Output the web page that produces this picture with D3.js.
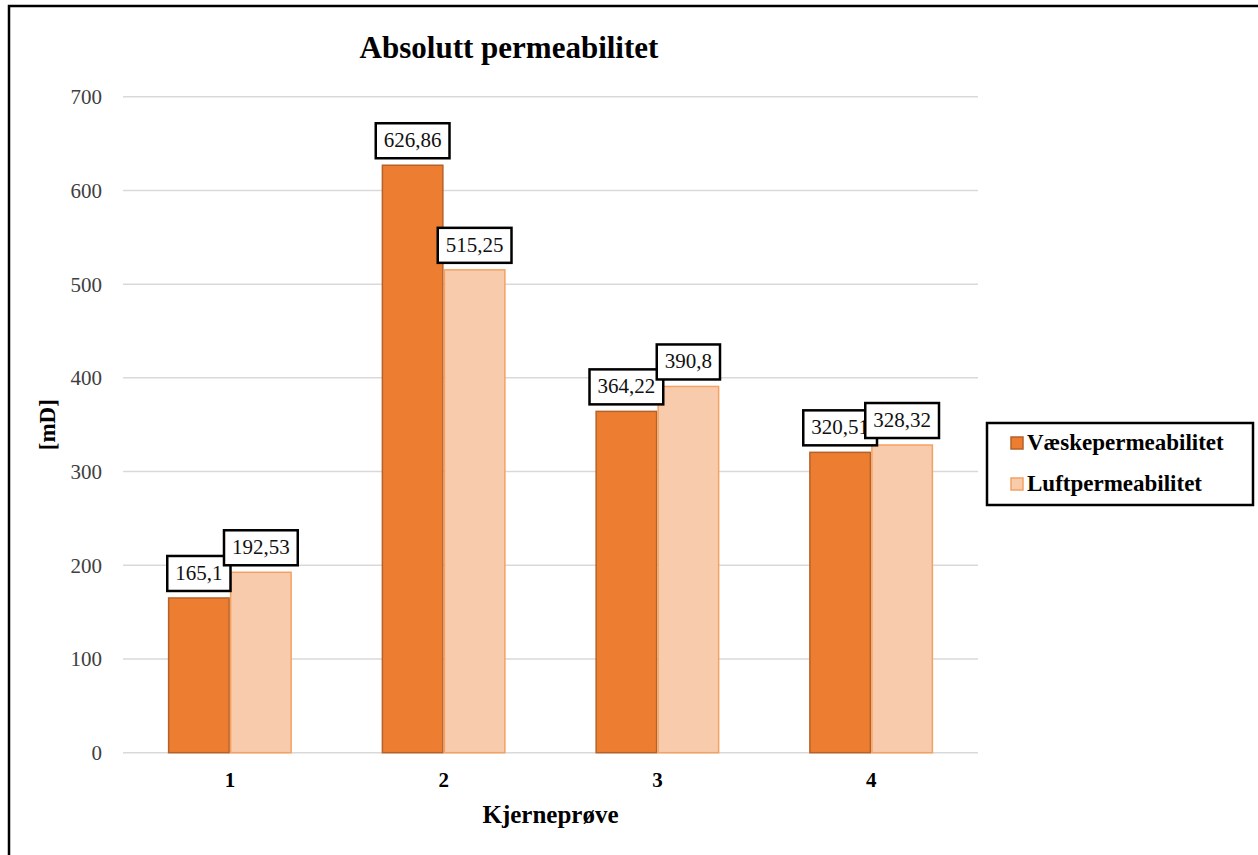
<!DOCTYPE html>
<html>
<head>
<meta charset="utf-8">
<script src="https://cdn.jsdelivr.net/npm/d3@7"></script>
<style>
  html, body { margin: 0; padding: 0; background: #fff; }
  svg { display: block; }
  text { font-family: "Liberation Serif", "DejaVu Serif", serif; }
</style>
</head>
<body>
<svg id="chart" width="1258" height="855"></svg>
<script>
// Core samples and measured permeabilities [mD]
const categories = ["1", "2", "3", "4"];
const seriesNames = ["Væskepermeabilitet", "Luftpermeabilitet"];
const liquidPerm = [165.1, 626.86, 364.22, 320.51];
const airPerm = [192.53, 515.25, 390.8, 328.32];
const yTicks = [0, 100, 200, 300, 400, 500, 600, 700];

const seriesValues = [liquidPerm, airPerm];
const fills = ["#ED7D31", "#F8CBAD"];
const strokes = ["#B5622A", "#F4A261"];

const svg = d3.select("#chart");
const plot = { left: 123, right: 978, top: 96.7, bottom: 752.7 };

// outer frame
svg.append("rect")
  .attr("x", 9).attr("y", 6).attr("width", 1300).attr("height", 900)
  .attr("fill", "none").attr("stroke", "#000").attr("stroke-width", 2.5);

const x = d3.scaleBand().domain(categories).range([plot.left, plot.right]).paddingInner(0).paddingOuter(0);
const barW = 62;
const groupW = barW * 2;
const y = d3.scaleLinear().domain([0, 700]).range([plot.bottom, plot.top]);

// gridlines
svg.append("g").selectAll("line").data(yTicks).join("line")
  .attr("x1", plot.left).attr("x2", plot.right)
  .attr("y1", d => y(d)).attr("y2", d => y(d))
  .attr("stroke", "#D9D9D9").attr("stroke-width", 1.5);

// y axis tick labels
const yAxis = d3.axisLeft(y).tickValues(yTicks).tickSize(0).tickPadding(0).tickFormat(d3.format("d"));
const yg = svg.append("g").attr("transform", `translate(102,0)`).call(yAxis);
yg.select(".domain").remove();
yg.selectAll("text")
  .attr("font-family", "Liberation Serif, serif")
  .attr("font-size", 21).attr("fill", "#404040").attr("dy", "0.33em");

// x axis category labels
const xAxis = d3.axisBottom(x).tickSize(0).tickPadding(0);
const xg = svg.append("g").attr("transform", `translate(0,${plot.bottom})`).call(xAxis);
xg.select(".domain").remove();
xg.selectAll("text")
  .attr("font-family", "Liberation Serif, serif")
  .attr("font-size", 21).attr("font-weight", "bold").attr("fill", "#000")
  .attr("dy", 0).attr("y", 34);

// bars
const barX = (ci, si) => x(categories[ci]) + x.bandwidth() / 2 - groupW / 2 + si * barW;

seriesValues.forEach((vals, si) => {
  svg.append("g").selectAll("rect").data(vals).join("rect")
    .attr("x", (d, i) => barX(i, si) + 0.75)
    .attr("width", barW - 1.5)
    .attr("y", d => y(d))
    .attr("height", d => plot.bottom - y(d))
    .attr("fill", fills[si])
    .attr("stroke", strokes[si]).attr("stroke-width", 1.5);
});

// value labels with boxes
const fmt = v => String(v).replace(".", ",");
seriesValues.forEach((vals, si) => {
  const g = svg.append("g");
  vals.forEach((v, i) => {
    const cx = barX(i, si) + barW / 2;
    const boxBottom = y(v) - 7;
    const lg = g.append("g");
    const t = lg.append("text")
      .attr("x", cx).attr("y", boxBottom - 11)
      .attr("text-anchor", "middle")
      .attr("font-size", 21).attr("fill", "#111")
      .text(fmt(v));
    const w = t.node().getComputedTextLength() + 16;
    lg.insert("rect", "text")
      .attr("x", cx - w / 2).attr("y", boxBottom - 35)
      .attr("width", w).attr("height", 35)
      .attr("fill", "#fff").attr("stroke", "#000").attr("stroke-width", 2.5);
  });
});

// title
svg.append("text")
  .attr("x", 509).attr("y", 58).attr("text-anchor", "middle")
  .attr("font-size", 31).attr("font-weight", "bold").attr("fill", "#000")
  .text("Absolutt permeabilitet");

// y axis title
svg.append("text")
  .attr("transform", `translate(55,${(plot.top + plot.bottom) / 2}) rotate(-90)`)
  .attr("text-anchor", "middle")
  .attr("font-size", 23).attr("font-weight", "bold").attr("fill", "#000")
  .text("[mD]");

// x axis title
svg.append("text")
  .attr("x", (plot.left + plot.right) / 2).attr("y", 823).attr("text-anchor", "middle")
  .attr("font-size", 25).attr("font-weight", "bold").attr("fill", "#000")
  .text("Kjerneprøve");

// legend
const lg = svg.append("g");
lg.append("rect")
  .attr("x", 987).attr("y", 423).attr("width", 266).attr("height", 82)
  .attr("fill", "#fff").attr("stroke", "#000").attr("stroke-width", 2.5);
seriesNames.forEach((name, si) => {
  const yy = 443 + si * 41;
  lg.append("rect")
    .attr("x", 1011).attr("y", yy - 6).attr("width", 12).attr("height", 12)
    .attr("fill", fills[si]).attr("stroke", strokes[si]).attr("stroke-width", 1.5);
  lg.append("text")
    .attr("x", 1027).attr("y", yy + 7)
    .attr("font-size", 23).attr("font-weight", "bold").attr("fill", "#000")
    .text(name);
});
</script>
</body>
</html>
